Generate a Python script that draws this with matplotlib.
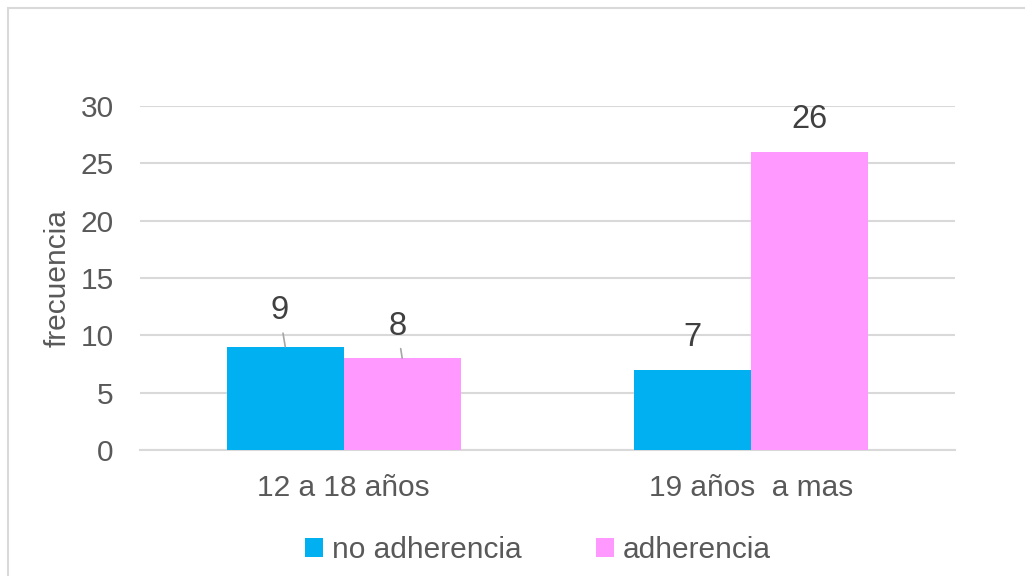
import numpy as np
import matplotlib.pyplot as plt
from matplotlib.patches import Rectangle

plt.rcParams['font.family'] = ['Liberation Sans', 'DejaVu Sans']

# Data
grupos = ['12 a 18 años', '19 años  a mas']
no_adherencia = [9, 7]
adherencia = [8, 26]
series = ['no adherencia', 'adherencia']
colores = ['#00B0F0', '#FF99FF']

# label offsets in pixels (dx, dy) and whether a leader line is drawn
offsets_no = [(-6, 36, True), (0, 32, False)]
offsets_si = [(-5, 32, True), (0, 32, False)]

fig = plt.figure(figsize=(10.25, 5.76), dpi=100)
ax = fig.add_axes([0.1366, 0.2188, 0.795, 0.5972])

# outer chart frame
fig.patches.append(Rectangle((8 / 1025, -0.05), 1.1, 1 - 8 / 576 + 0.05,
                             transform=fig.transFigure, fill=False,
                             edgecolor='#d9d9d9', linewidth=1.5))

x = np.arange(len(grupos))
w = 0.287
b1 = ax.bar(x - w / 2, no_adherencia, w, color=colores[0], label=series[0], zorder=3)
b2 = ax.bar(x + w / 2, adherencia, w, color=colores[1], label=series[1], zorder=3)

for bars, vals, offs in [(b1, no_adherencia, offsets_no), (b2, adherencia, offsets_si)]:
    for bar, v, (dx, dy, leader) in zip(bars, vals, offs):
        xc = bar.get_x() + bar.get_width() / 2
        props = dict(arrowstyle='-', color='#a6a6a6', lw=1.2, shrinkA=3, shrinkB=0) if leader else None
        ax.annotate(str(v), xy=(xc, v), xytext=(dx, dy), textcoords='offset pixels',
                    ha='center', va='center', fontsize=23.5, color='#404040',
                    arrowprops=props, zorder=4)

ax.set_xlim(-0.5, 1.5)
ax.set_ylim(0, 30)
ax.set_yticks(range(0, 31, 5))
ax.set_xticks(x)
ax.set_xticklabels(grupos)
ax.tick_params(axis='both', length=0, labelsize=21.5, colors='#595959')
ax.tick_params(axis='x', pad=17)
ax.tick_params(axis='y', pad=19)
ax.grid(axis='y', color='#d9d9d9', linewidth=1.5, zorder=0)
for s in ['top', 'right', 'left']:
    ax.spines[s].set_visible(False)
ax.spines['bottom'].set_color('#d9d9d9')
ax.spines['bottom'].set_linewidth(1.5)

ax.set_ylabel('frecuencia', fontsize=21.5, color='#595959', labelpad=6)

fig.legend(loc='center', bbox_to_anchor=(538 / 1025, 1 - 550 / 576), ncol=2,
           frameon=False, fontsize=21.5, handlelength=0.6, handleheight=0.6,
           handletextpad=0.3, columnspacing=2.5, labelcolor='#595959')

fig.savefig('out.png', dpi=100)
